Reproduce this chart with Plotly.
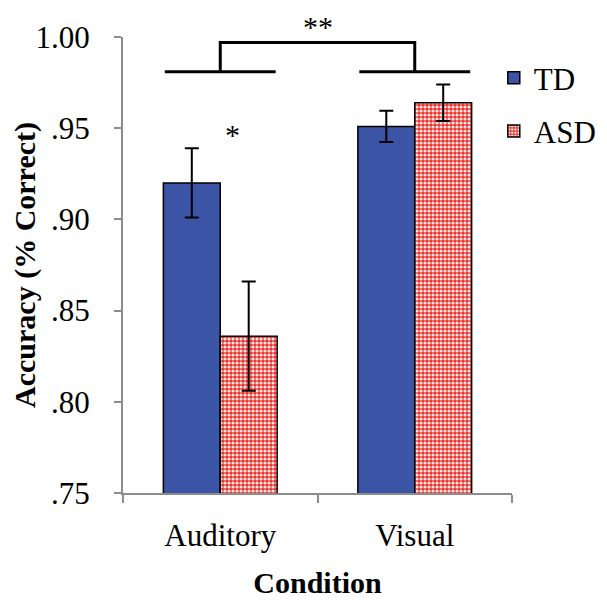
import plotly.graph_objects as go

categories = ["Auditory", "Visual"]
td_values = [0.920, 0.951]
td_errors = [0.019, 0.0085]
asd_values = [0.836, 0.964]
asd_errors = [0.030, 0.010]
y_tick_values = [0.75, 0.80, 0.85, 0.90, 0.95, 1.00]
y_tick_labels = [".75", ".80", ".85", ".90", ".95", "1.00"]

# significance markers
bracket_base = 0.981
bracket_top = 0.997
bracket_half = 0.285
star_single_pos = (0.065, 0.9466)
star_double_paper = (0.5, 1.0636)

FONT = "Liberation Serif, Times New Roman, serif"
TD_COLOR = "#3b54a6"
ASD_RED = "#e8322c"

fig = go.Figure()
fig.add_trace(go.Bar(
    name="TD", x=categories, y=td_values,
    marker=dict(color=TD_COLOR, line=dict(color="black", width=1.5)),
    error_y=dict(type="data", array=td_errors, color="black", thickness=2, width=7),
    legendgroup="td",
))
fig.add_trace(go.Bar(
    name="ASD", x=categories, y=asd_values,
    marker=dict(color="white", line=dict(color="black", width=1.5),
                pattern=dict(shape=".", fgcolor="#fde6e4", bgcolor=ASD_RED, size=4, solidity=0.5, fillmode="replace")),
    error_y=dict(type="data", array=asd_errors, color="black", thickness=2, width=7),
    legendgroup="asd",
))

# brackets
shapes = []
for i in range(len(categories)):
    shapes.append(dict(type="line", xref="x", yref="y", x0=i - bracket_half, x1=i + bracket_half,
                       y0=bracket_base, y1=bracket_base, line=dict(color="black", width=3)))
shapes.append(dict(type="path", xref="x", yref="y",
                   path=f"M 0,{bracket_base} L 0,{bracket_top} L 1,{bracket_top} L 1,{bracket_base}",
                   line=dict(color="black", width=3)))

annotations = [
    dict(x=star_single_pos[0], y=star_single_pos[1], xref="x", yref="y", text="*", showarrow=False,
         font=dict(family=FONT, size=30, color="black")),
    dict(x=star_double_paper[0], y=star_double_paper[1], xref="paper", yref="paper", text="**",
         showarrow=False, yanchor="top",
         font=dict(family=FONT, size=30, color="black")),
]

# page body has an 8px default margin, so the figure is sized to fit the 607x606 window
fig.update_layout(
    width=599, height=598,
    margin=dict(l=115, r=95, t=29, b=113, autoexpand=False),
    paper_bgcolor="white", plot_bgcolor="white",
    barmode="group", bargap=0.415, bargroupgap=0,
    font=dict(family=FONT, size=30, color="black"),
    shapes=shapes, annotations=annotations,
    legend=dict(xref="container", yref="container", x=0.811, y=0.928, xanchor="left", yanchor="top",
                tracegroupgap=10,
                font=dict(family=FONT, size=31, color="black"), bgcolor="rgba(0,0,0,0)"),
    xaxis=dict(
        automargin=False,
        showline=True, linecolor="#8c8c8c", linewidth=2,
        ticks="outside", tickson="boundaries", ticklen=8, tickcolor="#8c8c8c", tickwidth=2,
        ticklabelstandoff=14,
        showgrid=False, range=[-0.5, 1.5],
        title=dict(text="<b>Condition</b>", font=dict(family=FONT, size=30), standoff=20),
        tickfont=dict(family=FONT, size=31),
    ),
    yaxis=dict(
        automargin=False,
        range=[0.75, 1.0], tickvals=y_tick_values, ticktext=y_tick_labels,
        showline=True, linecolor="#8c8c8c", linewidth=2,
        ticks="outside", ticklen=7, tickcolor="#8c8c8c", tickwidth=2,
        ticklabelstandoff=18,
        showgrid=False, zeroline=False,
        title=dict(text="<b>Accuracy (% Correct)</b>", font=dict(family=FONT, size=30), standoff=8),
        tickfont=dict(family=FONT, size=31),
    ),
)

fig.write_html("out.html")
